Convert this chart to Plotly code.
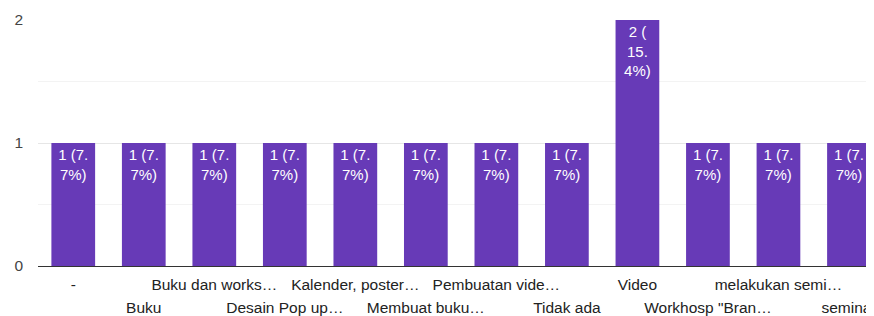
import plotly.graph_objects as go

categories = ["-", "Buku", "Buku dan works…", "Desain Pop up…", "Kalender, poster…",
              "Membuat buku…", "Pembuatan vide…", "Tidak ada", "Video",
              "Workhosp \"Bran…", "melakukan semi…", "seminar"]
values = [1, 1, 1, 1, 1, 1, 1, 1, 2, 1, 1, 1]
y_ticks = [0, 1, 2]

total = sum(values)


def wrap(s, width=5):
    tokens, cur = [], ""
    for ch in s:
        cur += ch
        if ch in " .(":
            tokens.append(cur)
            cur = ""
    if cur:
        tokens.append(cur)
    lines, line = [], ""
    for t in tokens:
        if line and len((line + t).rstrip()) > width:
            lines.append(line.rstrip())
            line = t
        else:
            line += t
    if line:
        lines.append(line.rstrip())
    return "<br>".join(lines)


labels = [wrap(f"{v} ({v / total * 100:.1f}%)") for v in values]
xs = list(range(len(categories)))

FONT = "Liberation Sans, Arial, sans-serif"
BAR = "#673ab7"

fig = go.Figure()
fig.add_trace(go.Bar(
    x=xs, y=values, text=labels, width=0.62,
    marker=dict(color=BAR, line=dict(width=0)),
    textposition="inside", insidetextanchor="end", textangle=0,
    insidetextfont=dict(color="white", size=15, family=FONT),
    constraintext="none", hoverinfo="skip", showlegend=False,
))
# invisible trace for second label row axis
fig.add_trace(go.Scatter(x=[xs[0]], y=[0], xaxis="x2", mode="markers",
                         marker=dict(opacity=0), hoverinfo="skip", showlegend=False))

even = xs[0::2]
odd = xs[1::2]
rng = [-0.5, 11.355]
# page body has an 8px default margin; size the figure to fit the 874x316 window
fig.update_layout(
    width=866, height=308,
    margin=dict(l=30, r=0, t=12, b=50, autoexpand=False),
    paper_bgcolor="white", plot_bgcolor="white",
    font=dict(family=FONT, size=15.5, color="#222"),
    xaxis=dict(range=rng, tickmode="array", tickvals=even,
               ticktext=[categories[i] for i in even],
               showgrid=False, zeroline=False, ticks="", showline=False,
               tickfont=dict(size=15.5, color="#222"), ticklabelstandoff=7,
               ticklabeloverflow="allow", automargin=False),
    xaxis2=dict(range=rng, overlaying="x", anchor="y", side="bottom",
                tickmode="array", tickvals=odd,
                ticktext=[categories[i] for i in odd],
                showgrid=False, zeroline=False, ticks="", showline=False,
                tickfont=dict(size=15.5, color="#222"), ticklabelstandoff=30,
                ticklabeloverflow="allow", automargin=False),
    yaxis=dict(range=[0, 2], tickvals=y_ticks, ticktext=[str(t) for t in y_ticks],
               showgrid=True, gridcolor="#e6e6e6", gridwidth=1,
               minor=dict(dtick=0.5, showgrid=True, gridcolor="#f3f3f3"),
               zeroline=True, zerolinecolor="#333", zerolinewidth=1.2,
               tickfont=dict(size=15.5, color="#444"), ticklabelstandoff=14,
               fixedrange=True, automargin=False),
)

fig.write_html("out.html")
